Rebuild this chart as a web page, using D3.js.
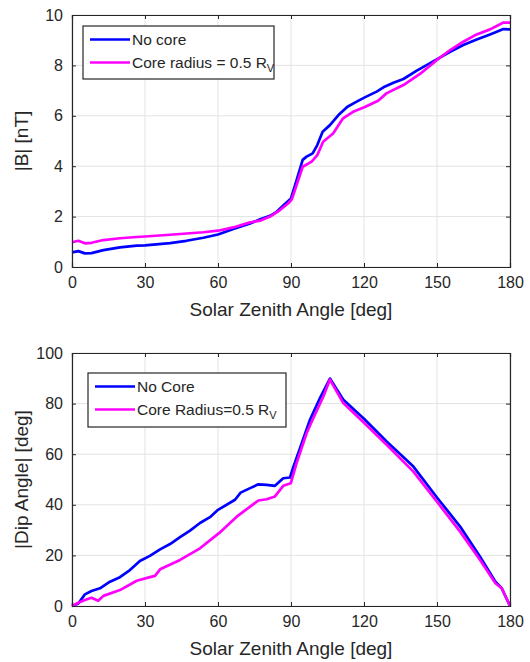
<!DOCTYPE html>
<html>
<head>
<meta charset="utf-8">
<script src="https://cdn.jsdelivr.net/npm/d3@7"></script>
<style>
  body { margin: 0; background: #fff; }
  svg text { font-family: "Liberation Sans", Arial, sans-serif; fill: #262626; }
</style>
</head>
<body>
<div id="chart"></div>
<script>
// ---- data ----
// top panel: |B| [nT] vs solar zenith angle
var bNoCoreSza = [0, 2.6, 5.3, 8, 12.9, 19.7, 26.6, 30, 40.3, 47, 54, 60, 66.3, 73.2, 77.3, 81.4, 84.1, 87.5, 90, 92.3, 94.8, 96.4, 98.9, 100.8, 103, 106, 109.5, 113.2, 117, 120.1, 125.2, 128, 132.1, 136.2, 141.7, 149.9, 155.4, 160.8, 166.3, 171.8, 177.3, 180];
var bNoCore    = [0.58, 0.63, 0.54, 0.55, 0.67, 0.78, 0.85, 0.86, 0.95, 1.04, 1.16, 1.29, 1.51, 1.73, 1.89, 2.03, 2.19, 2.5, 2.72, 3.45, 4.25, 4.38, 4.51, 4.84, 5.37, 5.63, 6.03, 6.36, 6.56, 6.72, 6.96, 7.13, 7.31, 7.46, 7.79, 8.24, 8.54, 8.81, 9.03, 9.23, 9.44, 9.43];
var bCoreSza   = [0, 2.6, 5.3, 8, 12.9, 19.7, 26.6, 30, 40.3, 54, 60, 66.3, 73.2, 77.3, 81.4, 85.5, 88.9, 90.3, 92.3, 94.8, 98.5, 100.8, 103.2, 107.3, 111.4, 115.5, 120.1, 125.8, 129.2, 136.2, 143, 149.9, 155.4, 160.8, 166.3, 171.8, 177.3, 180];
var bCore      = [0.98, 1.04, 0.94, 0.96, 1.07, 1.14, 1.19, 1.21, 1.28, 1.38, 1.44, 1.57, 1.77, 1.84, 2.0, 2.26, 2.53, 2.68, 3.25, 3.98, 4.18, 4.44, 4.97, 5.3, 5.9, 6.16, 6.34, 6.6, 6.89, 7.22, 7.66, 8.21, 8.61, 8.94, 9.23, 9.43, 9.7, 9.7];

// bottom panel: |Dip Angle| [deg] vs solar zenith angle
var dipNoCoreSza = [0, 2.6, 5.3, 8, 11.5, 15.6, 19.7, 23.8, 27.9, 32, 36.2, 40.3, 44.4, 48.5, 52.6, 56.7, 60, 67, 69.3, 73.2, 76.6, 80, 83.4, 86.8, 89.6, 91, 93.7, 97.8, 101.9, 106, 111.5, 120.1, 129.3, 140.3, 149.9, 159.5, 167.7, 174, 176.6, 180];
var dipNoCore    = [0, 1, 4.6, 5.9, 7.0, 9.6, 11.4, 14.2, 17.8, 19.8, 22.4, 24.5, 27.2, 29.8, 32.8, 35.1, 38, 42, 44.8, 46.6, 48.1, 47.9, 47.5, 50.5, 50.8, 55.1, 62.4, 73.6, 82.2, 89.9, 81.5, 73.9, 65, 55.1, 43, 31.4, 19.5, 9.6, 7, 0];
var dipCoreSza   = [0, 2.6, 5.3, 8, 10.8, 12.9, 19.7, 26.6, 32, 34.1, 36.2, 44.4, 52.6, 60.4, 67.7, 73.2, 76.6, 80, 83.4, 86.8, 89.9, 92.3, 96.4, 99.2, 103.3, 106, 111.5, 120.1, 129.3, 140.3, 149.9, 159.5, 167.7, 174, 176.6, 180];
var dipCore      = [0, 1.3, 2.4, 3.3, 2.1, 4, 6.3, 10, 11.4, 11.9, 14.5, 18.2, 22.8, 28.8, 35.3, 39.3, 41.7, 42.2, 43.3, 47.5, 48.5, 56.5, 68.3, 74.3, 82.8, 89.5, 80.2, 72.3, 63.7, 53.1, 41.3, 29.4, 18.2, 9, 7, 0];

var xTicks = [0, 30, 60, 90, 120, 150, 180];
var bTicks = [0, 2, 4, 6, 8, 10];
var dipTicks = [0, 20, 40, 60, 80, 100];

var BLUE = "#0000ff", MAGENTA = "#ff00ff";

var svg = d3.select("#chart").append("svg")
    .attr("width", 530)
    .attr("height", 662);

function zip(xs, ys) {
    return xs.map(function (x, i) { return [x, ys[i]]; });
}

// one MATLAB-style axes box
function drawPanel(p) {
    var x = d3.scaleLinear().domain([0, 180]).range([p.left, p.right]);
    var y = d3.scaleLinear().domain(p.yDomain).range([p.bottom, p.top]);
    var g = svg.append("g");

    // grid
    g.selectAll(".gx").data(xTicks).enter().append("line")
        .attr("x1", function (d) { return x(d); }).attr("x2", function (d) { return x(d); })
        .attr("y1", p.top).attr("y2", p.bottom)
        .attr("stroke", "#e3e3e3").attr("stroke-width", 1);
    g.selectAll(".gy").data(p.yTicks).enter().append("line")
        .attr("y1", function (d) { return y(d); }).attr("y2", function (d) { return y(d); })
        .attr("x1", p.left).attr("x2", p.right)
        .attr("stroke", "#e3e3e3").attr("stroke-width", 1);

    // lines
    var line = d3.line().x(function (d) { return x(d[0]); }).y(function (d) { return y(d[1]); });
    p.series.forEach(function (s) {
        g.append("path").datum(s.pts)
            .attr("d", line)
            .attr("fill", "none")
            .attr("stroke", s.color)
            .attr("stroke-width", 2.7)
            .attr("stroke-linejoin", "round");
    });

    // axes with inward ticks, box on
    var ax = g.append("g").attr("transform", "translate(0," + p.bottom + ")")
        .call(d3.axisBottom(x).tickValues(xTicks).tickSize(-4).tickPadding(10));
    var ay = g.append("g").attr("transform", "translate(" + p.left + ",0)")
        .call(d3.axisLeft(y).tickValues(p.yTicks).tickSize(-4).tickPadding(9));
    var axT = g.append("g").attr("transform", "translate(0," + p.top + ")")
        .call(d3.axisTop(x).tickValues(xTicks).tickSize(-4).tickFormat(""));
    var ayR = g.append("g").attr("transform", "translate(" + p.right + ",0)")
        .call(d3.axisRight(y).tickValues(p.yTicks).tickSize(-4).tickFormat(""));
    [ax, ay, axT, ayR].forEach(function (a) {
        a.select(".domain").attr("stroke", "#262626").attr("stroke-width", 1.2);
        a.selectAll(".tick line").attr("stroke", "#262626");
        a.selectAll(".tick text").attr("font-size", 16).attr("fill", "#262626")
            .attr("font-family", "Liberation Sans, Arial, sans-serif");
    });

    // axis labels
    g.append("text")
        .attr("x", (p.left + p.right) / 2).attr("y", p.bottom + 49)
        .attr("text-anchor", "middle").attr("font-size", 19)
        .text("Solar Zenith Angle [deg]");
    g.append("text")
        .attr("transform", "translate(28," + (p.top + p.bottom) / 2 + ") rotate(-90)")
        .attr("text-anchor", "middle").attr("font-size", 19)
        .text(p.yLabel);

    // legend
    var L = p.legend;
    g.append("rect")
        .attr("x", L.x).attr("y", L.y).attr("width", L.w).attr("height", L.h)
        .attr("fill", "#fff").attr("stroke", "#262626").attr("stroke-width", 1.2);
    p.series.forEach(function (s, i) {
        var ly = L.y + 13.5 + i * 23;
        g.append("line")
            .attr("x1", L.x + 7).attr("x2", L.x + 47)
            .attr("y1", ly).attr("y2", ly)
            .attr("stroke", s.color).attr("stroke-width", 2.7);
        var t = g.append("text")
            .attr("x", L.x + 49).attr("y", ly + 5.5)
            .attr("font-size", 15.5)
            .text(s.label);
        if (s.sub) {
            t.append("tspan").attr("font-size", 11).attr("dy", 4).text(s.sub);
        }
    });
}

drawPanel({
    left: 72, right: 510, top: 15, bottom: 267,
    yDomain: [0, 10], yTicks: bTicks, yLabel: "|B| [nT]",
    legend: { x: 83, y: 26, w: 191, h: 53 },
    series: [
        { pts: zip(bNoCoreSza, bNoCore), color: BLUE, label: "No core" },
        { pts: zip(bCoreSza, bCore), color: MAGENTA, label: "Core radius = 0.5 R", sub: "V" }
    ]
});

drawPanel({
    left: 72, right: 510, top: 353, bottom: 606,
    yDomain: [0, 100], yTicks: dipTicks, yLabel: "|Dip Angle| [deg]",
    legend: { x: 88, y: 373, w: 198, h: 54 },
    series: [
        { pts: zip(dipNoCoreSza, dipNoCore), color: BLUE, label: "No Core" },
        { pts: zip(dipCoreSza, dipCore), color: MAGENTA, label: "Core Radius=0.5 R", sub: "V" }
    ]
});
</script>
</body>
</html>
